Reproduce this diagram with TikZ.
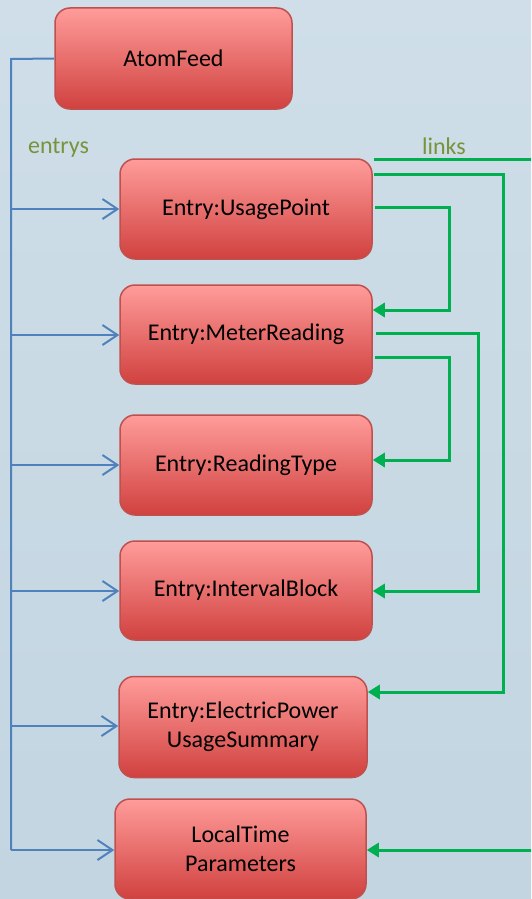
\documentclass[tikz,border=0pt]{standalone}
\usepackage{fontspec}
\setmainfont{Carlito}
\usetikzlibrary{arrows.meta}
\definecolor{bgtop}{HTML}{CFDEE8}
\definecolor{bgbot}{HTML}{C2D5E1}
\definecolor{boxtop}{HTML}{FF9C9A}
\definecolor{boxbot}{HTML}{D0413F}
\definecolor{boxline}{HTML}{C0504D}
\definecolor{blueline}{HTML}{4F81BD}
\definecolor{greenline}{HTML}{00B050}
\definecolor{olive}{HTML}{77933C}
\begin{document}
\begin{tikzpicture}[x=1pt,y=-1pt,
  box/.style={draw=boxline, line width=1.5pt, rounded corners=15pt,
    top color=boxtop, bottom color=boxbot, align=center, inner sep=0pt,
    font=\fontsize{24}{29}\selectfont, text=black},
  bluearrow/.style={draw=blueline, line width=2pt, -{Straight Barb[length=15pt,width=20pt,line width=2pt]}},
  blueline/.style={draw=blueline, line width=2pt},
  greenarrow/.style={draw=greenline, line width=3pt, -{Triangle[length=12pt,width=14pt]}},
  greenline/.style={draw=greenline, line width=3pt},
  lbl/.style={text=olive, font=\fontsize{24}{28}\selectfont, inner sep=0pt}]
\useasboundingbox (0,0) rectangle (531,899);
\shade[top color=bgtop, bottom color=bgbot] (0,0) rectangle (531,899);

\node[box, minimum width=237pt, minimum height=101pt] (af) at (173.5,58.5) {AtomFeed};
\node[box, minimum width=252pt, minimum height=100pt] (up) at (246,209) {Entry:UsagePoint};
\node[box, minimum width=252pt, minimum height=99pt] (mr) at (246,334.5) {Entry:MeterReading};
\node[box, minimum width=252pt, minimum height=100pt] (rt) at (246,465) {Entry:ReadingType};
\node[box, minimum width=252pt, minimum height=99pt] (ib) at (246,590.5) {Entry:IntervalBlock};
\node[box, minimum width=248pt, minimum height=101pt] (ep) at (243,727) {Entry:ElectricPower\\UsageSummary};
\node[box, minimum width=251pt, minimum height=100pt] (lt) at (240.5,849) {LocalTime\\Parameters};

\node[lbl] (le) at (58.5,148) {entrys};
\node[lbl] (ll) at (444,146) {links};

% blue tree
\coordinate (bt) at (11,59);
\coordinate (bb) at (11,850);
\draw[blueline] (af.west) -- (bt) -- (bb);
\coordinate (b1) at (11,209);
\coordinate (b2) at (11,335);
\coordinate (b3) at (11,465);
\coordinate (b4) at (11,591);
\coordinate (b5) at (11,726);
\draw[bluearrow] (b1) -- (up.west |- b1);
\draw[bluearrow] (b2) -- (mr.west |- b2);
\draw[bluearrow] (b3) -- (rt.west |- b3);
\draw[bluearrow] (b4) -- (ib.west |- b4);
\draw[bluearrow] (b5) -- (ep.west |- b5);
\draw[bluearrow] (bb) -- (lt.west |- bb);

% green links
\coordinate (g0a) at (374,159);
\coordinate (g0b) at (531,159);
\draw[greenline] (g0a) -- (g0b);

\coordinate (g1) at (374,174);
\draw[greenarrow] (g1) -- (503,174) -- (503,692) -- (ep.east |- 0,692);

\coordinate (g2) at (375,207);
\draw[greenarrow] (g2) -- (449,207) -- (449,310) -- (mr.east |- 0,310);

\coordinate (g3) at (376,333);
\draw[greenarrow] (g3) -- (478,333) -- (478,591) -- (ib.east |- 0,591);

\coordinate (g4) at (375,357);
\draw[greenarrow] (g4) -- (449,357) -- (449,460) -- (rt.east |- 0,460);

\coordinate (g5) at (531,850);
\draw[greenarrow] (g5) -- (lt.east |- g5);
\end{tikzpicture}
\end{document}
